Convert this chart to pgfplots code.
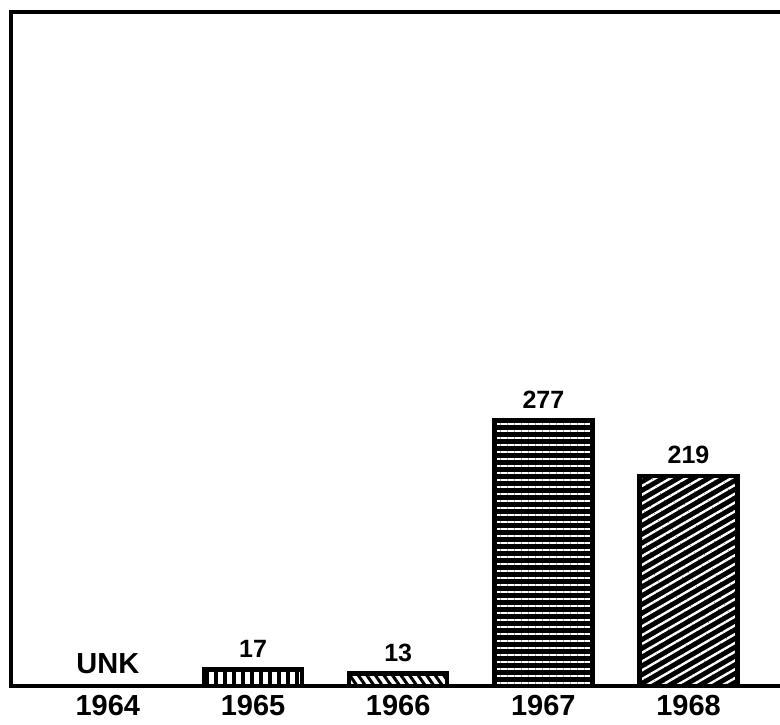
\documentclass[border=0pt]{standalone}
\usepackage{pgfplots}
\pgfplotsset{compat=1.18}
\usepackage{fontspec}
\setmainfont{Liberation Sans}
\usetikzlibrary{patterns.meta}
\begin{document}
\begin{tikzpicture}
\begin{axis}[
  name=ax,
  scale only axis,
  width=384.5pt, height=337pt,
  xmin=-0.667, xmax=4.63,
  ymin=0, ymax=702,
  axis line style={draw=none},
  ytick=\empty,
  xtick={0,1,2,3,4},
  xticklabels={1964,1965,1966,1967,1968},
  major tick length=0pt,
  /pgf/number format/assume math mode=true,
  xticklabel style={font=\bfseries\fontsize{14.5}{16}\selectfont, yshift=-1pt},
  every node near coord/.style={font=\bfseries\fontsize{12.5}{14}\selectfont, yshift=1.5pt},
  clip=false,
  ybar, bar width=49pt, bar shift=0pt,
]
\addplot[draw=none, fill=none, nodes near coords={UNK},
  every node near coord/.append style={font=\bfseries\fontsize{14.5}{16}\selectfont, yshift=1pt}] coordinates {(0,0)};
\addplot[draw=black, line width=2.2pt,
  pattern={Lines[angle=90, distance=4.5pt, line width=2pt]}, pattern color=black,
  nodes near coords] coordinates {(1,17)};
\addplot[draw=black, line width=2.2pt,
  pattern={Lines[angle=-55, distance=3.5pt, line width=1.5pt]}, pattern color=black,
  nodes near coords] coordinates {(2,13)};
\addplot[draw=black, line width=2.2pt, preaction={fill=black},
  pattern={Lines[angle=0, distance=3.5pt, line width=0.9pt]}, pattern color=white,
  nodes near coords] coordinates {(3,277)};
\addplot[draw=black, line width=2.2pt, preaction={fill=black},
  pattern={Lines[angle=30, distance=3.8pt, line width=1.2pt]}, pattern color=white,
  nodes near coords] coordinates {(4,219)};
\draw[line width=1.8pt, line cap=rect] (rel axis cs:1,1) -- (rel axis cs:0,1) -- (rel axis cs:0,0) -- (rel axis cs:1,0);
\end{axis}
\pgfresetboundingbox
\path (ax.south west) ++(-5.5pt,-19.5pt) coordinate (bl);
\path (ax.north east) ++(0pt,6pt) coordinate (tr);
\useasboundingbox (bl) rectangle (tr);
\end{tikzpicture}
\end{document}
